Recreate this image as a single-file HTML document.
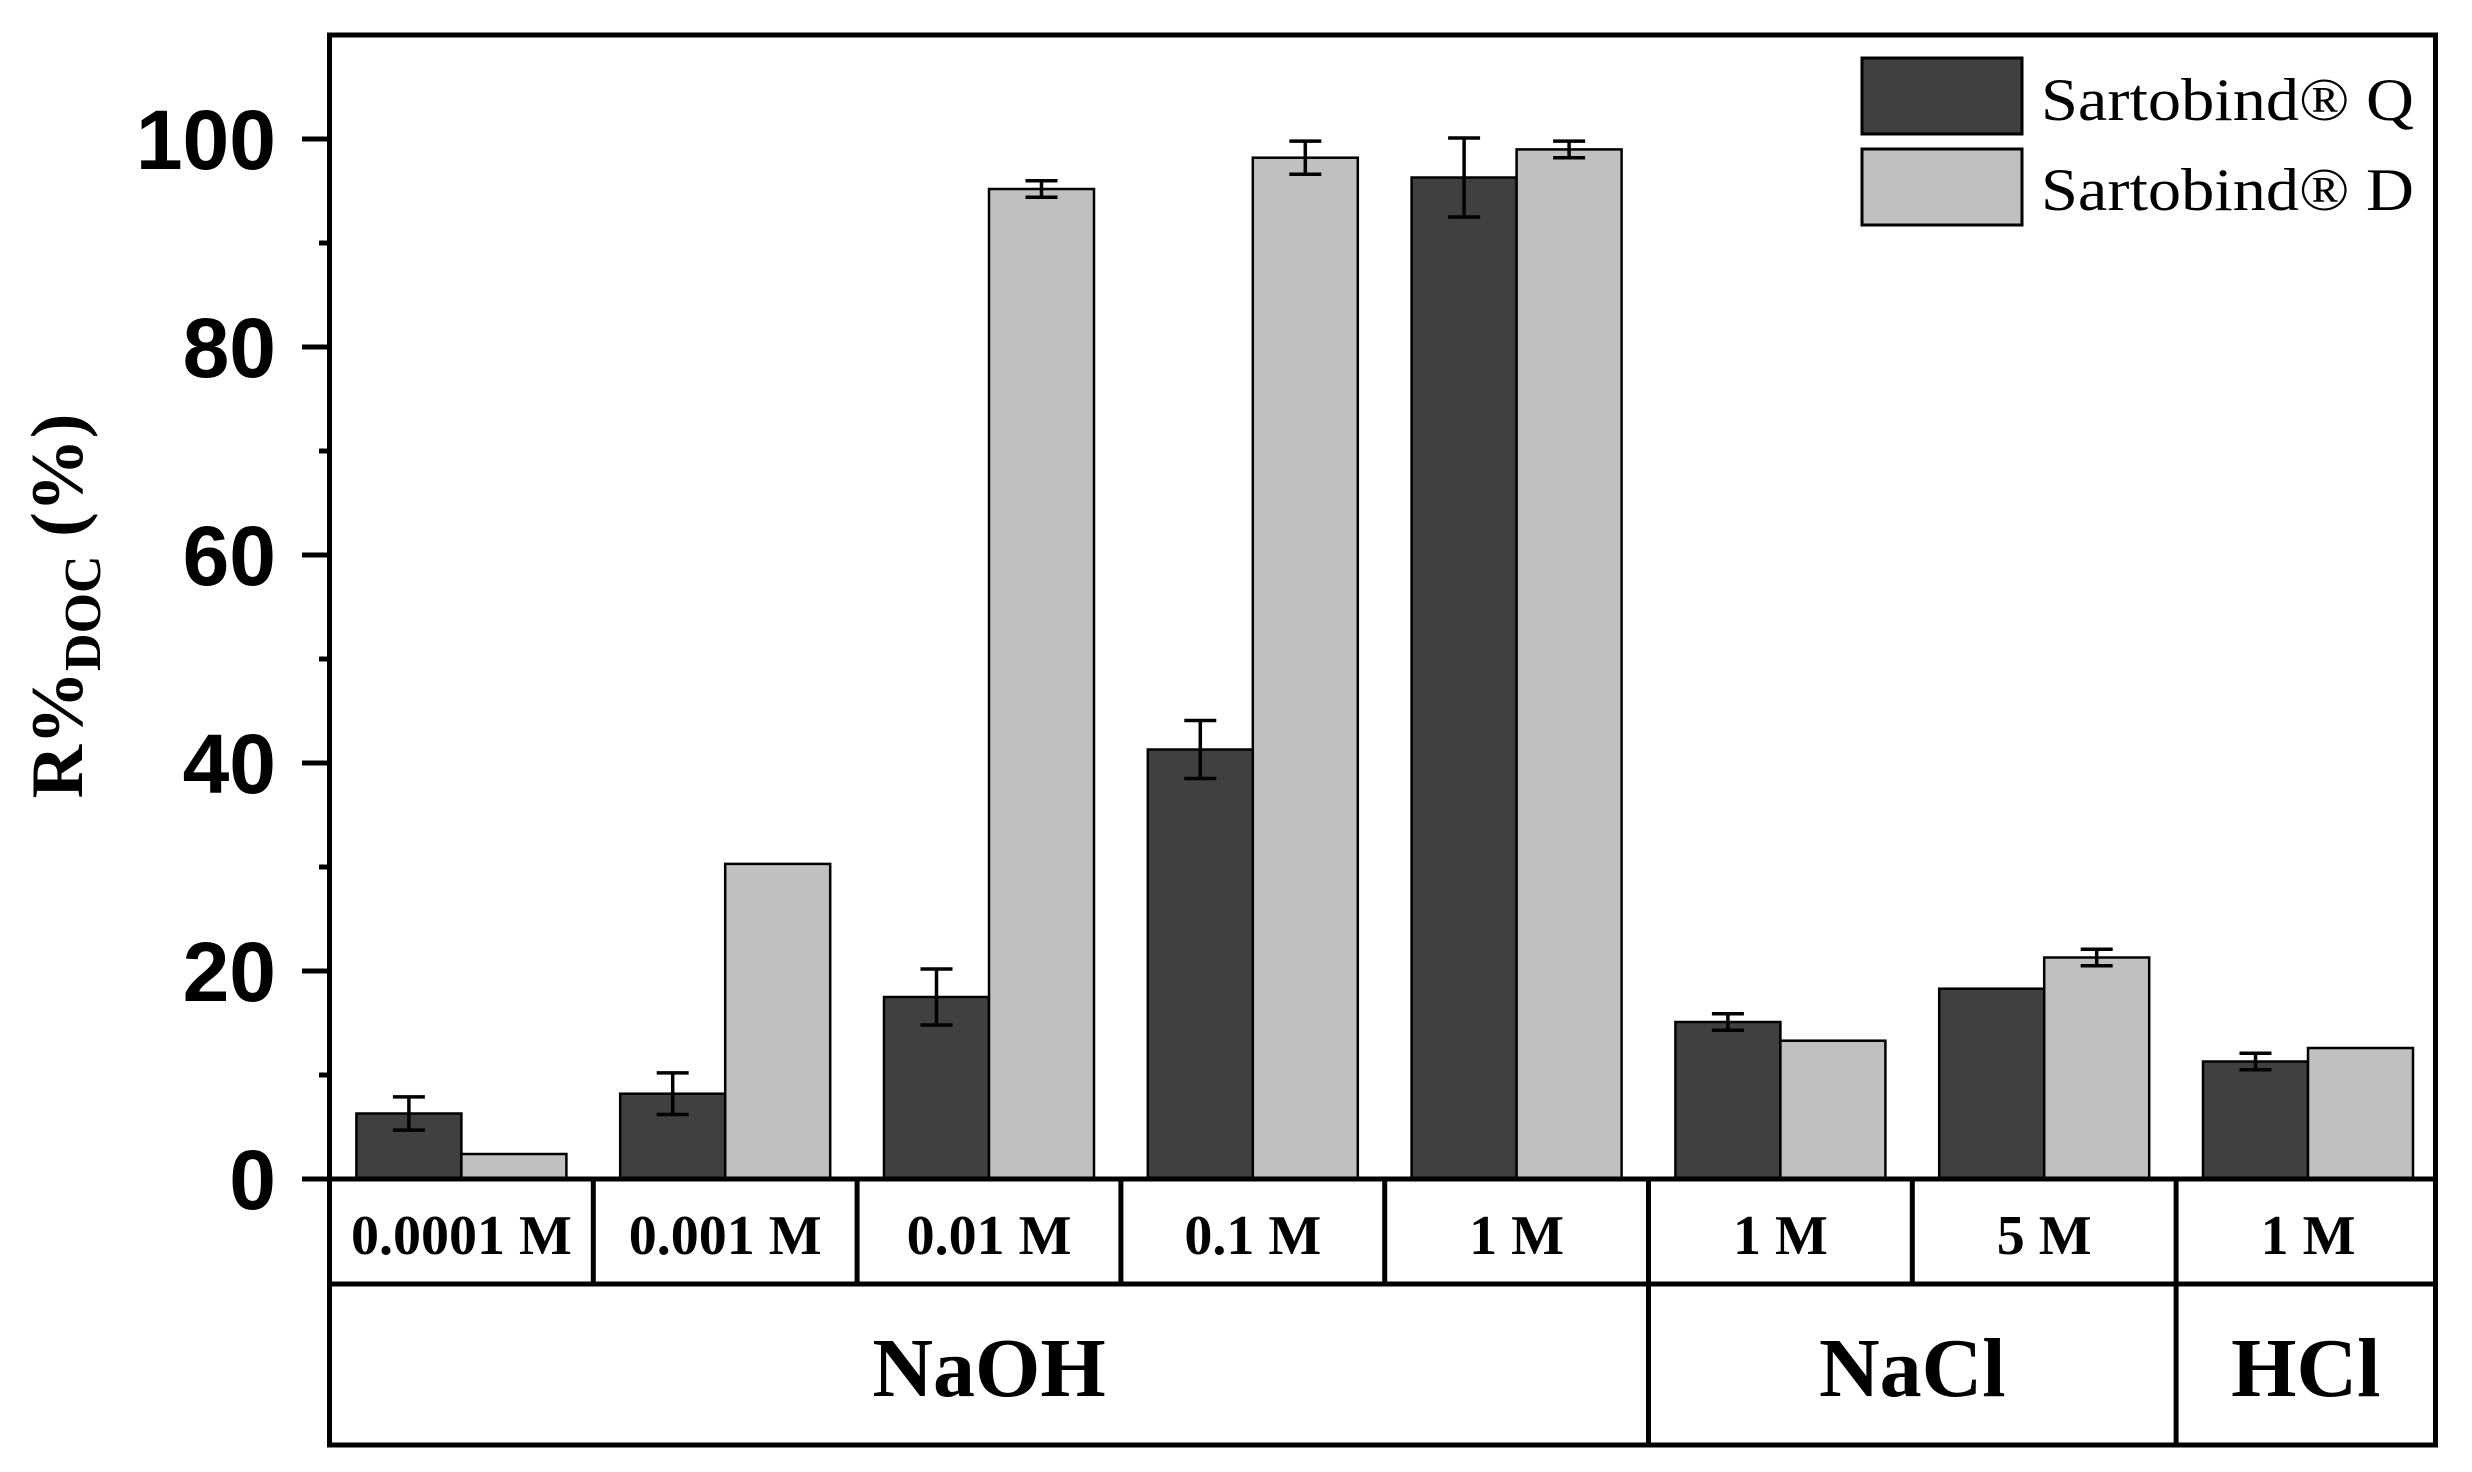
<!DOCTYPE html>
<html><head><meta charset="utf-8"><style>
html,body{margin:0;padding:0;background:#fff;}
svg{display:block;}
</style></head><body>
<svg width="2472" height="1472" viewBox="0 0 2472 1472" xmlns="http://www.w3.org/2000/svg">
<rect width="2472" height="1472" fill="#fff"/>
<g stroke="#000" stroke-width="2.5">
<g fill="#404040">
<rect x="356.4" y="1113.5" width="105" height="65.5"/>
<rect x="620.2" y="1093.7" width="105" height="85.3"/>
<rect x="884" y="997" width="105" height="182"/>
<rect x="1147.8" y="749.5" width="105" height="429.5"/>
<rect x="1411.6" y="177.5" width="105" height="1001.5"/>
<rect x="1675.4" y="1022" width="105" height="157"/>
<rect x="1939.2" y="988.7" width="105" height="190.3"/>
<rect x="2203" y="1061.5" width="105" height="117.5"/>
</g>
<g fill="#c0c0c0">
<rect x="461.4" y="1154" width="105" height="25"/>
<rect x="725.2" y="863.9" width="105" height="315.1"/>
<rect x="989" y="189" width="105" height="990"/>
<rect x="1252.8" y="157.7" width="105" height="1021.3"/>
<rect x="1516.6" y="149.4" width="105" height="1029.6"/>
<rect x="1780.4" y="1040.7" width="105" height="138.3"/>
<rect x="2044.2" y="957.5" width="105" height="221.5"/>
<rect x="2308" y="1048" width="105" height="131"/>
</g>
</g>
<g stroke="#000" stroke-width="3.5" fill="none">
<path d="M408.9 1096.9V1130.1M392.9 1096.9H424.9M392.9 1130.1H424.9"/>
<path d="M672.7 1072.9V1114.5M656.7 1072.9H688.7M656.7 1114.5H688.7"/>
<path d="M936.5 969V1025M920.5 969H952.5M920.5 1025H952.5"/>
<path d="M1200.3 720.5V778.5M1184.3 720.5H1216.3M1184.3 778.5H1216.3"/>
<path d="M1464.1 138V217M1448.1 138H1480.1M1448.1 217H1480.1"/>
<path d="M1727.9 1013.7V1030.3M1711.9 1013.7H1743.9M1711.9 1030.3H1743.9"/>
<path d="M2255.5 1053.2V1069.8M2239.5 1053.2H2271.5M2239.5 1069.8H2271.5"/>
<path d="M1041.5 180.7V197.3M1025.5 180.7H1057.5M1025.5 197.3H1057.5"/>
<path d="M1305.3 141.1V174.3M1289.3 141.1H1321.3M1289.3 174.3H1321.3"/>
<path d="M1569.1 141.1V157.7M1553.1 141.1H1585.1M1553.1 157.7H1585.1"/>
<path d="M2096.7 949.2V965.8M2080.7 949.2H2112.7M2080.7 965.8H2112.7"/>
</g>
<g stroke="#000" stroke-width="5" fill="none">
<rect x="329.5" y="35" width="2106" height="1410"/>
<path d="M302 1179H2435"/>
<path d="M329.5 1284H2435"/>
<path d="M593.3 1179V1284M857.1 1179V1284M1120.9 1179V1284M1384.7 1179V1284M1648.5 1179V1284M1912.3 1179V1284M2176.1 1179V1284"/>
<path d="M1648.5 1284V1445M2176.1 1284V1445"/>
<path d="M302 139H329.5M302 347H329.5M302 555H329.5M302 763H329.5M302 971H329.5"/>
<path d="M319 243H329.5M319 451H329.5M319 659H329.5M319 867H329.5M319 1075H329.5"/>
</g>
<g font-family="Liberation Sans, Arial, sans-serif" font-weight="bold" font-size="84" text-anchor="end" fill="#000">
<text x="276" y="169">100</text>
<text x="276" y="377">80</text>
<text x="276" y="585">60</text>
<text x="276" y="793">40</text>
<text x="276" y="1001">20</text>
<text x="276" y="1209">0</text>
</g>
<text transform="translate(82,606) rotate(-90)" font-family="Liberation Serif, serif" font-weight="bold" font-size="74" text-anchor="middle" fill="#000">R%<tspan font-size="52" dy="18">DOC</tspan><tspan dy="-18"> (%)</tspan></text>
<g font-family="Liberation Serif, serif" font-weight="bold" font-size="56" text-anchor="middle" fill="#000">
<text x="461.4" y="1254">0.0001 M</text>
<text x="725.2" y="1254">0.001 M</text>
<text x="989" y="1254">0.01 M</text>
<text x="1252.8" y="1254">0.1 M</text>
<text x="1516.6" y="1254">1 M</text>
<text x="1780.4" y="1254">1 M</text>
<text x="2044.2" y="1254">5 M</text>
<text x="2308" y="1254">1 M</text>
</g>
<g font-family="Liberation Serif, serif" font-weight="bold" font-size="84" text-anchor="middle" fill="#000">
<text x="989" y="1396">NaOH</text>
<text x="1912.3" y="1396">NaCl</text>
<text x="2305.8" y="1396">HCl</text>
</g>
<rect x="1862" y="58" width="160" height="76" fill="#404040" stroke="#000" stroke-width="3"/>
<rect x="1862" y="149" width="160" height="76" fill="#c0c0c0" stroke="#000" stroke-width="3"/>
<g font-family="Liberation Serif, serif" font-size="60" fill="#000">
<text x="2041" y="120" textLength="373" lengthAdjust="spacingAndGlyphs">Sartobind® Q</text>
<text x="2041" y="210" textLength="373" lengthAdjust="spacingAndGlyphs">Sartobind® D</text>
</g>
</svg>
</body></html>
